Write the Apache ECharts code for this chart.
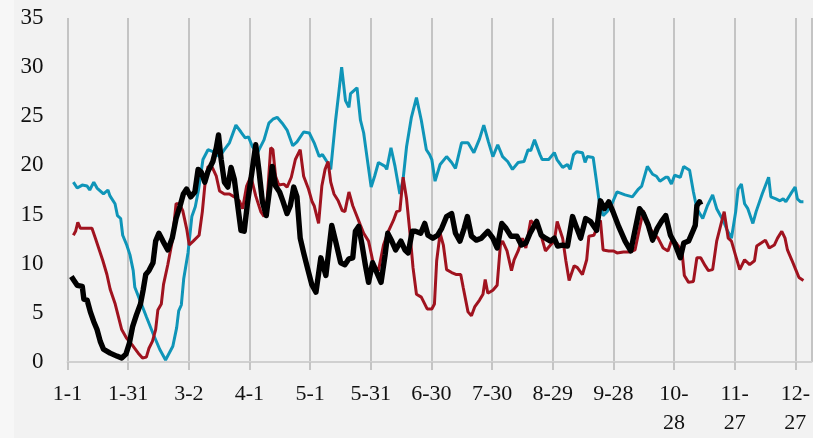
<!DOCTYPE html>
<html>
<head>
<meta charset="utf-8">
<script src="https://cdn.jsdelivr.net/npm/echarts@6/dist/echarts.min.js"></script>
<style>
html,body{margin:0;padding:0;background:#f2f2f2;}
#chart{width:813px;height:438px;}
</style>
</head>
<body>
<div id="chart"></div>
<script>
// x tick labels, one every 30 days starting at day 0 (1-1)
var tickLabels = ['1-1','1-31','3-2','4-1','5-1','5-31','6-30','7-30','8-29','9-28','10-\n28','11-\n27','12-\n27'];
var yTicks = [0,5,10,15,20,25,30,35];

// [day of year, value]
var tealSeries = [[2.9,18.3],[4.8,17.7],[7.3,18.0],[9.7,17.9],[11,17.5],[13,18.3],[14.6,17.7],[17.8,17.1],[20,17.5],[21,16.9],[23.5,16.1],[24.7,14.9],[26.3,14.6],[27.3,12.9],[29.3,11.9],[30.9,10.9],[32.5,9.3],[33.3,7.6],[35.8,6.3],[39,4.6],[42.3,2.9],[45.6,1.3],[48.5,0.2],[52.1,1.6],[54,3.5],[55,5.2],[56.3,5.8],[57.5,8.5],[59.6,11.1],[61.5,14.8],[63.2,15.8],[64.8,17.5],[67,20.6],[69.5,21.6],[71.9,21.4],[75.2,20.9],[77.6,21.6],[80.1,22.3],[83.3,24.1],[85.8,23.4],[87.9,22.8],[89.5,22.9],[91.5,21.9],[94,21.3],[97.2,22.6],[99.6,24.3],[101.6,24.7],[103.7,24.9],[106.2,24.3],[108.6,23.6],[111.4,22],[113.5,22.4],[116.8,23.4],[119.6,23.3],[122,22.3],[124.5,20.9],[126.1,21.1],[128.6,20.3],[130.2,19.6],[132.6,24.6],[134.3,27.6],[135.6,30],[137.5,26.6],[139.2,25.9],[140,27.3],[143.2,27.9],[144.9,24.6],[146.5,23.3],[148.1,20.9],[150.2,17.8],[151.9,18.9],[153.8,20.3],[157.1,19.9],[157.9,19.6],[160,21.8],[162,19.9],[164.4,17.1],[166,18.6],[167.7,21.9],[170.1,24.9],[172.6,26.9],[175,24.6],[177.5,21.6],[179.1,21.1],[180.2,20.6],[181.8,18.4],[184.3,20.1],[187.5,20.9],[190,20.3],[191.9,19.7],[194.9,22.3],[198.1,22.3],[201,21.3],[203.8,22.7],[205.9,24.1],[208.2,22.4],[210.4,20.9],[212.8,22.1],[215.2,20.9],[217.7,20.4],[220.1,19.6],[222.9,20.3],[225.8,20.4],[227.8,21.6],[229.1,21.5],[231,22.6],[233.7,21.1],[234.8,20.6],[238,20.6],[240.8,21.3],[242.1,20.6],[244.9,19.8],[247.3,20.1],[248.6,19.6],[250.3,21.1],[251.9,21.4],[254.7,21.3],[256,20.3],[257.1,20.9],[260,20.8],[261.7,18.3],[262.8,16.6],[264.9,14.9],[266.9,15.3],[269.3,16.1],[271.8,17.3],[275.8,17],[279.4,16.8],[282.4,17.6],[284,17.9],[286.8,19.9],[289.4,19.1],[291.3,18.9],[293,18.4],[295.9,18.8],[297,18.8],[298.7,18.1],[300.3,19],[303.1,18.8],[304.8,19.9],[307.7,19.5],[309.6,17.3],[311.3,15.6],[314.2,14.6],[316.5,15.9],[319.1,17],[321.1,15.6],[324.3,14.4],[326.3,13.4],[328.4,12.6],[330.5,15.3],[331.7,17.6],[333.3,18.1],[334.9,16.1],[336.5,15.6],[339,14.1],[340.6,15.3],[343.6,17.1],[346.8,18.8],[347.9,16.8],[350.4,16.6],[352.4,16.4],[354,16.6],[355.3,16.3],[357.7,17.1],[359.9,17.8],[361,16.6],[362.6,16.3],[364,16.3]];

var redSeries = [[2.9,12.9],[4,13.3],[5.1,14.2],[6.4,13.6],[9.7,13.6],[12.1,13.6],[13.8,12.6],[15.9,11.3],[17.5,10.3],[19.5,8.9],[21.1,7.4],[23.6,5.9],[25.2,4.6],[26.8,3.3],[29.3,2.4],[32.5,1.6],[35,0.9],[37.1,0.4],[39,0.5],[40.3,1.4],[42,2.1],[43.6,3.3],[44.7,5.3],[46.4,5.9],[47.5,7.9],[49.6,9.9],[51.8,12.3],[53.7,16.1],[55.3,16.1],[57,15.4],[59,13.5],[60.2,11.9],[62.2,12.3],[65.1,12.9],[66.7,15.3],[67.9,17.9],[69.5,19.9],[71.6,19.8],[73.6,18.9],[75.2,17.4],[77.6,17.1],[80.1,17.1],[82.5,16.8],[85,16.4],[86.6,15.6],[88.6,17.9],[90.7,18.9],[93.1,16.9],[95.6,15.3],[97.2,14.8],[98.8,16.6],[100.5,21.8],[101.6,21.6],[102.9,18.9],[104.5,18],[107,18.1],[108.6,17.8],[110.7,18.8],[112.7,20.6],[115.1,21.6],[116.8,18.9],[119.2,17.6],[121,16.3],[122,15.9],[124.2,14.1],[125.8,17.9],[127.4,19.6],[128.9,20.4],[130.2,18.3],[131.8,17.1],[133.9,16.4],[135.9,15.4],[137.2,15.3],[139.2,17.3],[141.1,15.9],[143.2,14.8],[144.9,13.9],[146.5,13.1],[148.9,12.3],[151.4,9.9],[153.8,9.3],[156.3,11.9],[158.7,13.3],[161.2,14.4],[162.8,15.3],[164.4,15.4],[166,18.8],[167.7,16.6],[169.3,13.3],[170.9,9.6],[172.6,6.9],[175,6.6],[177.9,5.4],[180.2,5.4],[181.5,5.9],[182.6,10.3],[184.3,13.1],[185.9,11.9],[187.5,9.4],[190,9.1],[192.4,8.9],[194.5,8.9],[195.7,7.6],[198.1,5.1],[199.8,4.7],[201.4,5.6],[203.8,6.3],[205.5,6.9],[206.6,8.4],[207.9,7],[210.4,7.3],[212.5,7.8],[214.1,11.9],[215.2,12.3],[217.4,11.3],[219.6,9.3],[220.9,10.4],[222.9,11.3],[225,12.6],[226.7,11.6],[229.1,14.4],[231.5,13.9],[233.7,13.3],[236.4,11.3],[238.9,11.9],[240.8,12.3],[242.2,14.3],[244.9,12.6],[246.5,10.3],[248.1,8.3],[250.6,9.8],[252.2,9.6],[254.7,8.9],[256.8,10.4],[257.9,12.8],[260.4,12.9],[261.7,13.6],[263.6,14.4],[264.9,11.4],[267.7,11.3],[270.1,11.3],[271.8,11.1],[275,11.2],[278.3,11.2],[280.7,11.4],[282.9,13.6],[284.8,15.4],[287.3,13.9],[289.7,13.1],[292.1,12.6],[294.6,11.6],[297,11.3],[298.7,12.3],[301.1,12.1],[303.9,11.3],[305.1,8.8],[307.2,8.1],[309.6,8.2],[311.3,10.6],[313.2,10.6],[315.4,9.8],[317,9.3],[319.1,9.4],[321.1,12.3],[322.7,13.6],[324.8,15.3],[326.8,12.6],[328.4,12.3],[330.5,10.8],[332.5,9.4],[334.9,10.4],[337.4,9.9],[339.8,10.3],[340.9,11.8],[343.1,12.1],[345.2,12.4],[347.1,11.6],[349.6,11.9],[351.2,12.6],[353.3,13.3],[354.9,12.6],[356.1,11.4],[358.2,10.4],[360.2,9.4],[361.8,8.6],[364,8.3]];

var blackSeries = [[1.9,8.7],[3.2,8.3],[4.8,7.8],[7.3,7.7],[8.1,6.4],[9.7,6.3],[11.3,5.1],[13,4.1],[14.6,3.3],[16.2,2.1],[17.8,1.3],[21.1,0.9],[24.4,0.6],[26.8,0.4],[28.9,0.8],[30.6,1.9],[32.2,3.6],[34.1,4.8],[36.1,5.9],[37.4,7.3],[38.7,8.9],[40.3,9.3],[42.3,10.1],[43.6,12.3],[45.2,13.1],[47.2,12.3],[49.6,11.4],[51.8,12.6],[53.7,14.6],[55.7,15.9],[57.3,17.1],[58.9,17.6],[60.9,16.8],[63,17.3],[64.6,19.6],[66.2,19.3],[67.9,18.3],[69.5,19.4],[71.9,20.4],[73.6,21.8],[74.7,23.1],[76,20.6],[77.6,18.3],[79.3,17.8],[80.9,19.8],[82.5,18.6],[84.2,15.9],[85.8,13.4],[87.4,13.3],[89.1,16.3],[91.2,19.3],[93.1,22.1],[94.8,19.3],[96.4,16.3],[98.3,14.9],[100,17.6],[101.3,19.9],[102.9,17.9],[104.9,17.3],[106.5,16.4],[108.6,15.1],[110.2,15.9],[111.9,17.8],[113.5,16.8],[115.1,12.6],[116.8,11.1],[118.9,9.4],[120.8,7.9],[122.9,7.1],[125.3,10.6],[127.8,8.8],[130.7,13.9],[132.6,12.3],[135.1,10.1],[137.2,9.9],[139.2,10.5],[141.1,10.6],[142.4,13.3],[144,13.8],[145.7,11.9],[147.3,9.9],[148.9,8.1],[150.9,10.1],[153,9.1],[155.1,8.1],[157.1,10.9],[158.4,13.1],[160.4,12.3],[162.3,11.4],[164.9,12.3],[166.9,11.4],[168.5,11.1],[170.5,13.3],[172.1,13.3],[174.7,13.1],[176.7,14.1],[178.3,12.9],[180.7,12.6],[183.1,12.9],[185.1,13.6],[187.5,14.8],[190,15.1],[191.9,13.1],[194.1,12.3],[196.2,13.6],[197.8,14.8],[199.8,12.8],[202.2,12.4],[204.7,12.6],[207.9,13.3],[210.4,12.6],[212.5,11.6],[214.8,14.1],[216.9,13.6],[219.3,12.8],[222.3,12.8],[224.5,11.9],[226.7,12.1],[228.8,13.1],[232,14.3],[234.3,12.9],[236.4,12.6],[238.9,12.3],[240.8,12.6],[242.4,11.8],[244.9,11.9],[247.3,11.8],[249.8,14.8],[251.4,13.9],[253.8,12.6],[256.3,14.6],[258.7,14.3],[261.7,13.4],[263.6,16.4],[265.6,15.6],[267.7,16.3],[269.8,15.3],[272.6,13.8],[275.8,12.3],[278.6,11.3],[280.7,13.4],[282.9,15.6],[284.8,15.1],[287.3,13.9],[289.4,12.4],[291.7,13.6],[293.8,14.3],[295.9,14.9],[298.2,12.9],[300.3,12.1],[303.1,10.6],[304.8,12.1],[307.2,12.3],[309.3,13.3],[310.5,13.9],[311.3,15.9],[312.6,16.3],[313.2,16.0]];

var chart = echarts.init(document.getElementById('chart'), null, {renderer: 'canvas'});
var serif = '"Liberation Serif","Times New Roman",serif';
chart.setOption({
  backgroundColor: '#f2f2f2',
  animation: false,
  graphic: [{type: 'rect', left: 0, top: 0, shape: {width: 14, height: 438}, style: {fill: '#f7f7f7'}, z: -10}],
  grid: {left: 67.5, top: 18, width: 752.6, height: 349.7, containLabel: false},
  xAxis: {
    type: 'value', min: 0, max: 368, interval: 30,
    axisLine: {show: true, lineStyle: {color: '#d0d0d0', width: 2}},
    axisTick: {show: true, length: 8, lineStyle: {color: '#c4c4c4', width: 2}},
    splitLine: {show: true, lineStyle: {color: '#c4c4c4', width: 2}},
    axisLabel: {
      fontFamily: serif, fontSize: 22, color: '#111', margin: 18, lineHeight: 29,
      showMaxLabel: false,
      formatter: function (v) { var i = Math.round(v / 30); return (v % 30 === 0 && tickLabels[i]) ? tickLabels[i] : ''; }
    }
  },
  yAxis: {
    type: 'value', min: yTicks[0], max: yTicks[yTicks.length - 1], interval: 5,
    axisLine: {show: false}, axisTick: {show: false}, splitLine: {show: false},
    axisLabel: {fontFamily: serif, fontSize: 23, color: '#111', margin: 24}
  },
  series: [
    {type: 'line', data: tealSeries, showSymbol: false, lineStyle: {color: '#0f95b8', width: 3}, z: 2},
    {type: 'line', data: redSeries, showSymbol: false, lineStyle: {color: '#a0131f', width: 3}, z: 3},
    {type: 'line', data: blackSeries, showSymbol: false, lineStyle: {color: '#000000', width: 5.4, join: 'round'}, z: 4}
  ]
});
</script>
</body>
</html>
